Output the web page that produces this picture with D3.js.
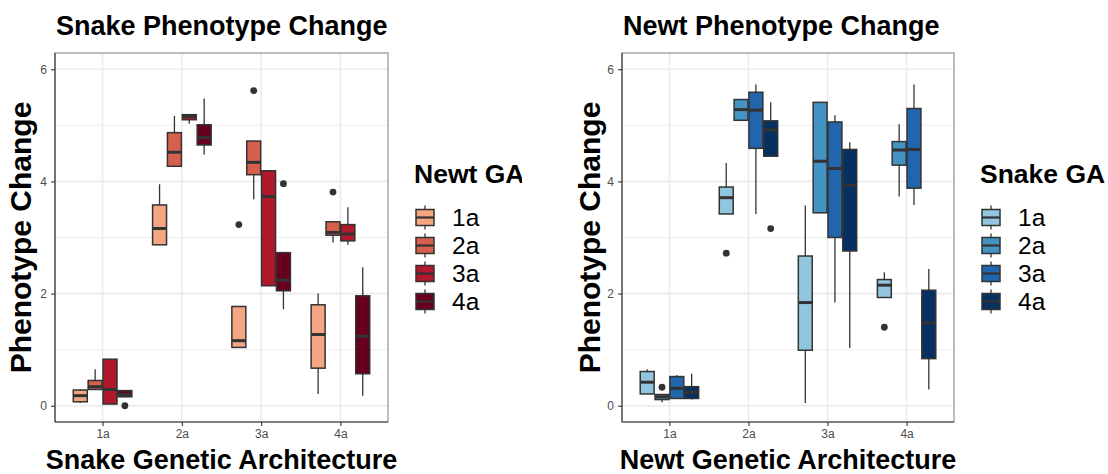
<!DOCTYPE html>
<html>
<head>
<meta charset="utf-8">
<script src="https://cdn.jsdelivr.net/npm/d3@7"></script>
<style>
  body { margin: 0; background: #fff; }
  svg { display: block; }
  text { font-family: "Liberation Sans", Arial, Helvetica, sans-serif; }
</style>
</head>
<body>
<svg id="chart" width="1108" height="474"></svg>
<script>
// ---- data -------------------------------------------------------------
const categories = ["1a", "2a", "3a", "4a"];
const groups = ["1a", "2a", "3a", "4a"];
const yTicks = [0, 2, 4, 6];
const yMinor = [1, 3, 5];

const redFills = ["#F4A582", "#D6604D", "#B2182B", "#67001F"];
const blueFills = ["#92C5DE", "#4393C3", "#2166AC", "#053061"];

// Snake phenotype change: rows = Snake GA, columns = Newt GA
const snakeLow  = [[0.05, 0.29, 0.03, 0.15], [2.87, 4.26, 5.03, 4.48], [1.03, 3.68, 2.14, 1.72], [0.21, 2.91, 2.87, 0.18]];
const snakeQ1   = [[0.07, 0.29, 0.03, 0.16], [2.87, 4.27, 5.10, 4.65], [1.04, 4.12, 2.14, 2.05], [0.67, 3.04, 2.94, 0.57]];
const snakeMed  = [[0.18, 0.34, 0.29, 0.20], [3.16, 4.52, 5.16, 4.78], [1.16, 4.34, 3.73, 2.24], [1.27, 3.09, 3.06, 1.24]];
const snakeQ3   = [[0.28, 0.45, 0.83, 0.27], [3.58, 4.87, 5.19, 5.01], [1.77, 4.72, 4.19, 2.73], [1.80, 3.28, 3.23, 1.96]];
const snakeHigh = [[0.30, 0.65, 0.83, 0.27], [3.95, 5.17, 5.19, 5.48], [1.77, 4.72, 4.19, 2.73], [2.00, 3.28, 3.54, 2.47]];
const snakeOutliers = [
  { cat: "1a", group: "4a", value: 0.00 },
  { cat: "3a", group: "1a", value: 3.23 },
  { cat: "3a", group: "2a", value: 5.62 },
  { cat: "3a", group: "4a", value: 3.96 },
  { cat: "4a", group: "2a", value: 3.81 }
];

// Newt phenotype change: rows = Newt GA, columns = Snake GA
const newtLow  = [[0.21, 0.06, 0.13, 0.11], [3.42, 5.09, 3.42, 4.45], [0.05, 3.44, 1.84, 1.03], [1.93, 3.73, 3.58, 0.29]];
const newtQ1   = [[0.21, 0.11, 0.13, 0.13], [3.42, 5.09, 4.59, 4.45], [0.99, 3.44, 3.00, 2.76], [1.93, 4.29, 3.88, 0.84]];
const newtMed  = [[0.42, 0.16, 0.31, 0.24], [3.71, 5.28, 5.27, 4.92], [1.84, 4.36, 4.23, 3.93], [2.15, 4.56, 4.57, 1.48]];
const newtQ3   = [[0.61, 0.20, 0.52, 0.34], [3.90, 5.46, 5.59, 5.08], [2.67, 5.41, 5.06, 4.57], [2.25, 4.71, 5.30, 2.06]];
const newtHigh = [[0.65, 0.20, 0.55, 0.57], [4.33, 5.46, 5.73, 5.41], [3.57, 5.41, 5.18, 4.70], [2.38, 5.02, 5.73, 2.44]];
const newtOutliers = [
  { cat: "1a", group: "2a", value: 0.33 },
  { cat: "2a", group: "1a", value: 2.72 },
  { cat: "2a", group: "4a", value: 3.16 },
  { cat: "4a", group: "1a", value: 1.40 }
];

const yDomain = [-0.29, 6.29];

// ---- drawing ----------------------------------------------------------
const svg = d3.select("#chart");
const defs = svg.append("defs");

const ink = "#333333";
const gridColor = "#EBEBEB";

function drawPanel(cfg) {
  const g = svg.append("g");
  if (cfg.clip) {
    defs.append("clipPath").attr("id", cfg.clip.id)
      .append("rect").attr("x", cfg.clip.x0).attr("y", 0)
      .attr("width", cfg.clip.x1 - cfg.clip.x0).attr("height", 474);
    g.attr("clip-path", `url(#${cfg.clip.id})`);
  }

  const x = d3.scalePoint().domain(categories)
    .range([cfg.left, cfg.right]).padding(0.6);
  const step = x.step();
  const dodge = d3.scaleBand().domain(groups)
    .range([-0.375 * step, 0.375 * step]);
  const boxW = dodge.bandwidth() * 0.94;
  const y = d3.scaleLinear().domain(yDomain).range([cfg.bottom, cfg.top]);
  const fill = d3.scaleOrdinal().domain(groups).range(cfg.fills);

  // panel background + grid
  g.append("rect").attr("x", cfg.left).attr("y", cfg.top)
    .attr("width", cfg.right - cfg.left).attr("height", cfg.bottom - cfg.top)
    .attr("fill", "#fff");
  g.selectAll(".minor").data(yMinor).join("line")
    .attr("x1", cfg.left).attr("x2", cfg.right)
    .attr("y1", d => y(d)).attr("y2", d => y(d))
    .attr("stroke", gridColor).attr("stroke-width", 0.9);
  g.selectAll(".majorY").data(yTicks).join("line")
    .attr("x1", cfg.left).attr("x2", cfg.right)
    .attr("y1", d => y(d)).attr("y2", d => y(d))
    .attr("stroke", gridColor).attr("stroke-width", 1.6);
  g.selectAll(".majorX").data(categories).join("line")
    .attr("x1", d => x(d)).attr("x2", d => x(d))
    .attr("y1", cfg.top).attr("y2", cfg.bottom)
    .attr("stroke", gridColor).attr("stroke-width", 1.6);

  // boxes
  const boxes = [];
  categories.forEach((c, ci) => groups.forEach((gr, gi) => {
    boxes.push({
      cat: c, group: gr,
      low: cfg.low[ci][gi], q1: cfg.q1[ci][gi], med: cfg.med[ci][gi],
      q3: cfg.q3[ci][gi], high: cfg.high[ci][gi]
    });
  }));
  const cx = d => x(d.cat) + dodge(d.group) + dodge.bandwidth() / 2;

  const bg = g.append("g");
  bg.selectAll(".wHi").data(boxes).join("line")
    .attr("x1", cx).attr("x2", cx)
    .attr("y1", d => y(d.q3)).attr("y2", d => y(d.high))
    .attr("stroke", ink).attr("stroke-width", 1.3);
  bg.selectAll(".wLo").data(boxes).join("line")
    .attr("x1", cx).attr("x2", cx)
    .attr("y1", d => y(d.q1)).attr("y2", d => y(d.low))
    .attr("stroke", ink).attr("stroke-width", 1.3);
  bg.selectAll(".box").data(boxes).join("rect")
    .attr("x", d => cx(d) - boxW / 2).attr("width", boxW)
    .attr("y", d => y(d.q3)).attr("height", d => Math.max(0.5, y(d.q1) - y(d.q3)))
    .attr("fill", d => fill(d.group))
    .attr("stroke", ink).attr("stroke-width", 1.5);
  bg.selectAll(".med").data(boxes).join("line")
    .attr("x1", d => cx(d) - boxW / 2).attr("x2", d => cx(d) + boxW / 2)
    .attr("y1", d => y(d.med)).attr("y2", d => y(d.med))
    .attr("stroke", ink).attr("stroke-width", 3);

  bg.selectAll(".out").data(cfg.outliers).join("circle")
    .attr("cx", cx).attr("cy", d => y(d.value)).attr("r", 3.4)
    .attr("fill", ink);

  // border and axes
  g.append("rect").attr("x", cfg.left).attr("y", cfg.top)
    .attr("width", cfg.right - cfg.left).attr("height", cfg.bottom - cfg.top)
    .attr("fill", "none").attr("stroke", "#9a9a9a").attr("stroke-width", 1.3);
  g.append("line").attr("x1", cfg.left).attr("x2", cfg.left)
    .attr("y1", cfg.top).attr("y2", cfg.bottom).attr("stroke", "#444").attr("stroke-width", 1.2);
  g.append("line").attr("x1", cfg.left).attr("x2", cfg.right)
    .attr("y1", cfg.bottom).attr("y2", cfg.bottom).attr("stroke", "#444").attr("stroke-width", 1.2);

  const yAxis = d3.axisLeft(y).tickValues(yTicks).tickFormat(d3.format("d"))
    .tickSize(4).tickPadding(4);
  const ya = g.append("g").attr("transform", `translate(${cfg.left},0)`).call(yAxis);
  const xAxis = d3.axisBottom(x).tickSize(4).tickPadding(3);
  const xa = g.append("g").attr("transform", `translate(0,${cfg.bottom})`).call(xAxis);
  [ya, xa].forEach(a => {
    a.attr("font-size", null).attr("font-family", null);
    a.select(".domain").remove();
    a.selectAll(".tick line").attr("stroke", ink).attr("stroke-width", 1.1);
    a.selectAll(".tick text").attr("fill", "#4D4D4D")
      .style("font-family", '"Liberation Sans", Arial, sans-serif').style("font-size", "12px");
  });

  // titles
  g.append("text").attr("x", cfg.left + 1).attr("y", 35)
    .attr("font-size", 27).attr("font-weight", "bold").attr("fill", "#000")
    .text(cfg.title);
  g.append("text").attr("x", (cfg.left + cfg.right) / 2).attr("y", 468.5)
    .attr("text-anchor", "middle")
    .attr("font-size", 27).attr("font-weight", "bold").attr("fill", "#000")
    .text(cfg.xTitle);
  g.append("text")
    .attr("transform", `translate(${cfg.yTitleX},${(cfg.top + cfg.bottom) / 2}) rotate(-90)`)
    .attr("text-anchor", "middle")
    .attr("font-size", 30).attr("font-weight", "bold").attr("fill", "#000")
    .text("Phenotype Change");

  // legend
  const lg = g.append("g").attr("transform", `translate(${cfg.legendX},0)`);
  lg.append("text").attr("x", 0).attr("y", 183)
    .attr("font-size", 26.5).attr("font-weight", "bold").attr("fill", "#000")
    .text(cfg.legendTitle);
  const rowY = d3.scalePoint().domain(groups).range([217.5, 301.5]);
  const keys = lg.selectAll(".key").data(groups).join("g")
    .attr("transform", d => `translate(0,${rowY(d)})`);
  keys.append("line").attr("x1", 11).attr("x2", 11).attr("y1", -12).attr("y2", 12)
    .attr("stroke", ink).attr("stroke-width", 1.3);
  keys.append("rect").attr("x", 2).attr("y", -8).attr("width", 18).attr("height", 16)
    .attr("fill", d => fill(d)).attr("stroke", ink).attr("stroke-width", 1.5);
  keys.append("line").attr("x1", 2).attr("x2", 20).attr("y1", 0).attr("y2", 0)
    .attr("stroke", ink).attr("stroke-width", 2.2);
  keys.append("text").attr("x", 38).attr("y", 8.8)
    .attr("font-size", 24.5).attr("fill", "#000")
    .text(d => d);
}

drawPanel({
  left: 55, right: 388, top: 53, bottom: 422,
  title: "Snake Phenotype Change",
  xTitle: "Snake Genetic Architecture",
  legendTitle: "Newt GA",
  fills: redFills,
  low: snakeLow, q1: snakeQ1, med: snakeMed, q3: snakeQ3, high: snakeHigh,
  outliers: snakeOutliers,
  yTitleX: 31, legendX: 414,
  clip: { id: "leftClip", x0: 0, x1: 522 }
});

drawPanel({
  left: 622, right: 954, top: 53, bottom: 422,
  title: "Newt Phenotype Change",
  xTitle: "Newt Genetic Architecture",
  legendTitle: "Snake GA",
  fills: blueFills,
  low: newtLow, q1: newtQ1, med: newtMed, q3: newtQ3, high: newtHigh,
  outliers: newtOutliers,
  yTitleX: 600, legendX: 980
});
</script>
</body>
</html>
